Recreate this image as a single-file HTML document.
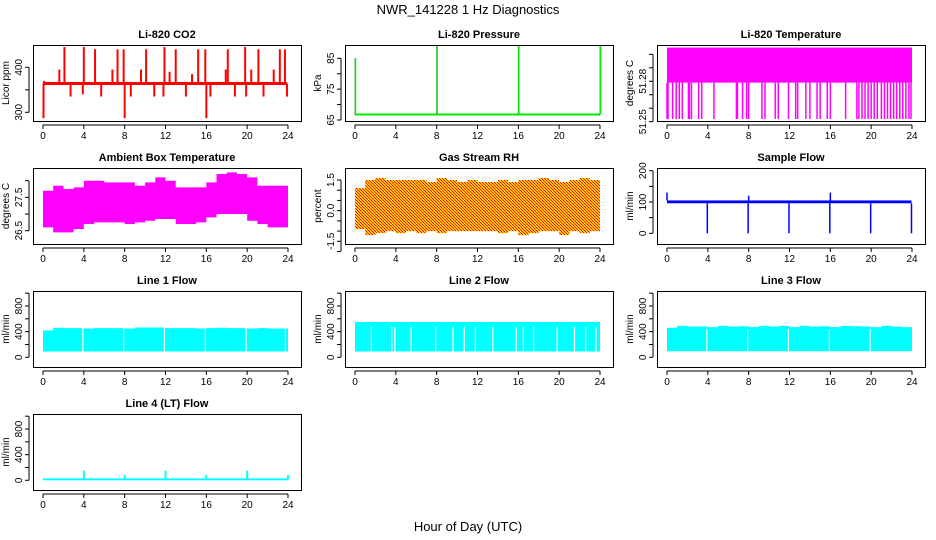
<!DOCTYPE html>
<html><head><meta charset="utf-8"><style>
html,body{margin:0;padding:0;background:#fff;}
svg{display:block;font-family:"Liberation Sans",sans-serif;}
</style></head><body>
<svg id="c" width="936" height="540" viewBox="0 0 936 540">
<defs>
<pattern id="chk" width="3" height="3" patternUnits="userSpaceOnUse">
<rect width="3" height="3" fill="#ffcc00"/><rect width="1" height="1" fill="#ff0000"/><rect x="1" y="1" width="1" height="1" fill="#ff2000"/><rect x="2" y="2" width="1" height="1" fill="#ff0000"/>
</pattern>
</defs>
<text x="468" y="14" text-anchor="middle" font-size="13">NWR_141228  1 Hz Diagnostics</text>
<text x="468" y="531" text-anchor="middle" font-size="13">Hour of Day (UTC)</text>
</svg>
<script>
// ---- data ----
const hourTicks = [0,4,8,12,16,20,24];
const bandHours = [0,1,2,3,4,5,6,7,8,9,10,11,12,13,14,15,16,17,18,19,20,21,22,23,24];
const co2Base = 364;
const co2SpikeHours = [0.05,0.1,1.6,2.1,2.7,3.9,4.0,5.1,5.7,6.8,7.3,7.9,8.0,8.6,9.6,10.1,10.9,11.8,11.9,12.4,13.0,14.0,14.6,15.2,15.9,16.0,16.4,17.9,18.1,18.8,19.8,19.9,20.4,21.1,21.6,22.6,23.2,23.7,23.9];
const co2SpikeVals  = [287,370,395,445,335,340,445,440,335,395,440,440,287,335,395,440,335,335,445,390,440,335,385,440,440,287,335,395,440,335,445,335,395,440,335,395,440,440,335];
const pressureBase = 66.8;
const pressureSpikeHours = [0,8,16,24];
const pressureSpikeVals = [85,89,89,89];
const tempHigh = 51.305, tempMid = 51.279, tempLow = 51.252;
const tempDropHours = [0,0.1,0.55,0.9,1.2,1.5,2.1,2.2,2.4,3.1,3.4,4.6,6.8,6.9,7.4,7.8,8.0,9.3,9.6,10.6,10.9,11.9,12.6,12.8,13.6,14.0,14.7,15.0,15.7,16.0,17.5,18.6,18.8,19.1,19.4,19.7,20.0,20.3,20.6,21.0,21.3,21.6,21.9,22.2,22.5,22.8,23.1,23.4,23.7,23.9];
const ambientLo = [26.6,26.45,26.45,26.55,26.7,26.75,26.75,26.75,26.7,26.75,26.8,26.85,26.85,26.7,26.7,26.75,26.9,27.0,27.0,27.0,26.8,26.7,26.6,26.6,26.8];
const ambientHi = [27.7,27.85,27.75,27.8,28.0,28.0,27.95,27.95,27.95,27.85,27.95,28.1,28.0,27.8,27.8,27.8,27.95,28.2,28.25,28.2,28.1,27.85,27.85,27.85,27.8];
const rhLo = [-0.9,-1.2,-1.1,-1.0,-1.1,-1.0,-1.1,-1.0,-1.1,-1.0,-1.0,-1.0,-1.0,-1.0,-1.1,-1.0,-1.2,-1.1,-1.0,-1.0,-1.2,-1.0,-1.1,-1.0,-0.8];
const rhHi = [1.1,1.5,1.6,1.5,1.5,1.5,1.5,1.4,1.6,1.5,1.4,1.5,1.4,1.4,1.5,1.4,1.5,1.5,1.6,1.5,1.4,1.5,1.6,1.5,1.3];
const sampleLo = 96, sampleHi = 105;
const sampleDropHours = [4,8,12,16,20,24];
const sampleSpikeHours = [0,8,16];
const sampleSpikeVals = [130,120,130];
const line1Lo = 90;
const line1Hi = [420,460,455,455,450,455,455,455,450,465,465,465,455,455,455,450,455,460,455,455,450,455,450,450,360];
const line1GapHours = [3.9,7.9,11.9,15.9,19.9,23.75];
const line2Lo = 90, line2Hi = 550;
const line2GapHours = [1.6,3.6,3.9,5.5,7.9,9.6,10.7,11.8,13.5,15.8,16.5,17.5,19.8,21.5,22.6,23.6];
const line3Lo = 95;
const line3Hi = [460,490,480,480,470,490,480,485,470,490,480,490,470,490,480,485,470,490,485,480,470,490,480,470,330];
const line3GapHours = [3.9,7.9,11.9,15.9,19.9];
const line4Base = 15;
const line4SpikeHours = [4,8,12,16,20,24];
const line4SpikeVals = [150,80,150,80,150,80];

// ---- layout ----
const NS = "http://www.w3.org/2000/svg";
const svg = document.getElementById('c');
const colX = [33,345,657], rowY = [45,168,291,414], BW = 268, BH = 76;
function mk(tag, attrs, parent){ const e=document.createElementNS(NS,tag); for(const k in attrs) e.setAttribute(k,attrs[k]); (parent||svg).appendChild(e); return e; }

function panel(name,col,row,title,ylab,v1,p1,v2,p2,ticks,labels){
  const x0=colX[col], y0=rowY[row];
  const g = mk('g',{});
  
  
  const X = h => x0+10 + h*(245/24);
  const Y = v => y0+p1 + (v-v1)*(p2-p1)/(v2-v1);
  const clip = mk('clipPath',{id:'cl'+name},g);
  mk('rect',{x:x0,y:y0,width:BW,height:BH},clip);
  const plot = mk('g',{'clip-path':'url(#cl'+name+')'},g);
  
  
  const t = mk('text',{x:x0+BW/2,y:y0-7,'text-anchor':'middle','font-size':11,'font-weight':'bold'},g);
  t.textContent = title;
  
  
  const xa = mk('g',{},g);
  
  
  mk('line',{x1:X(0),x2:X(24),y1:y0+BH+4,y2:y0+BH+4,stroke:'#000','stroke-width':1},xa);
  hourTicks.forEach(h=>{
    mk('line',{x1:X(h),x2:X(h),y1:y0+BH+4,y2:y0+BH+8,stroke:'#000'},xa);
    const tl = mk('text',{x:X(h),y:y0+BH+18,'text-anchor':'middle','font-size':10},xa);
    tl.textContent = h;
  });
  const ya = mk('g',{},g);
  
  
  const yt = ticks.map(Y);
  mk('line',{x1:x0-4,x2:x0-4,y1:Math.min(...yt),y2:Math.max(...yt),stroke:'#000'},ya);
  ticks.forEach(v=>{ mk('line',{x1:x0-8,x2:x0-4,y1:Y(v),y2:Y(v),stroke:'#000'},ya); });
  labels.forEach(l=>{
    const yy=Y(l[0]);
    const tl = mk('text',{x:x0-11,y:yy,'text-anchor':'middle','font-size':10,transform:`rotate(-90 ${x0-11} ${yy})`},ya);
    tl.textContent = l[1];
  });
  const yl = mk('text',{x:x0-24,y:y0+BH/2,'text-anchor':'middle','font-size':10,transform:`rotate(-90 ${x0-24} ${y0+BH/2})`},g);
  yl.textContent = ylab;
  
  
  const box = mk('rect',{x:x0+0.5,y:y0+0.5,width:BW,height:BH,fill:'none',stroke:'#000','stroke-width':1},g);
  
  
  return {plot,X,Y,g,box};
}
function band(p,hours,lo,hi,fill){
  let pts=[];
  hours.forEach((h,i)=>{ const a=p.X(h), b=p.X(Math.min(24,h+1)); const v=Array.isArray(hi)?hi[i]:hi; pts.push(a+','+p.Y(v)); if(i<hours.length-1) pts.push(b+','+p.Y(v)); });
  for(let i=hours.length-1;i>=0;i--){ const h=hours[i]; const v=Array.isArray(lo)?lo[i]:lo; const b=p.X(Math.min(24,h+1)); if(i<hours.length-1) pts.push(b+','+p.Y(v)); pts.push(p.X(h)+','+p.Y(v)); }
  const e = mk('polygon',{points:pts.join(' '),fill:fill},p.plot);
  
  
  return e;
}
function vline(p,h,v1,v2,color,w,dash){
  const e = mk('line',{x1:p.X(h),x2:p.X(h),y1:p.Y(v1),y2:p.Y(v2),stroke:color,'stroke-width':w||1.5},p.plot);
  if(dash) e.setAttribute('stroke-dasharray',dash);
  return e;
}

// CO2
const pCO2 = panel('co2',0,0,'Li-820 CO2','Licor ppm',400,22.3,300,67.3,[300,350,400],[[300,'300'],[400,'400']]);
co2SpikeHours.forEach((h,i)=>{ const e=vline(pCO2,h,co2Base,co2SpikeVals[i],'#ff0000',2);  });
{ const e=mk('line',{x1:pCO2.X(0),x2:pCO2.X(23.9),y1:pCO2.Y(co2Base),y2:pCO2.Y(co2Base),stroke:'#ff0000','stroke-width':3},pCO2.plot);  }

// Pressure
const pP = panel('pressure',1,0,'Li-820 Pressure','kPa',65,75,85,13.3,[65,70,75,80,85],[[65,'65'],[75,'75'],[85,'85']]);
{ const e=mk('line',{x1:pP.X(0),x2:pP.X(24),y1:pP.Y(pressureBase),y2:pP.Y(pressureBase),stroke:'#00ee00','stroke-width':2},pP.plot);  }
pressureSpikeHours.forEach((h,i)=>{ vline(pP,h,pressureBase,pressureSpikeVals[i],'#000',1,'1,1'); const e=vline(pP,h+0.05,pressureBase,pressureSpikeVals[i],'#00ee00',1.5);  });

// Temperature
const pT = panel('temperature',2,0,'Li-820 Temperature','degrees C',51.25,76.7,51.30,9.3,[51.25,51.26,51.27,51.28,51.29,51.30],[[51.25,'51.25'],[51.28,'51.28']]);
{ const e=mk('rect',{x:pT.X(0),y:pT.Y(tempHigh),width:pT.X(24)-pT.X(0),height:pT.Y(tempMid)-pT.Y(tempHigh),fill:'#ff00ff'},pT.plot);  }
tempDropHours.forEach(h=>{ const e=vline(pT,h,tempMid,tempLow,'#ff00ff',1.5);  });

// Ambient
const pA = panel('ambient',0,1,'Ambient Box Temperature','degrees C',26.5,62.7,28.0,12.7,[26.5,27,27.5,28],[[26.5,'26.5'],[27.5,'27.5']]);
band(pA,bandHours,ambientLo,ambientHi,'#ff00ff');

// RH
const pR = panel('rh',1,1,'Gas Stream RH','percent',1.5,12,-1.5,73.3,[-2,-1.5,-1,-0.5,0,0.5,1,1.5],[[-1.5,'-1.5'],[0,'0.0'],[1.5,'1.5']]);
band(pR,bandHours,rhLo,rhHi,'url(#chk)');

// Sample flow
const pS = panel('sample',2,1,'Sample Flow','ml/min',0,65.3,200,2.7,[0,50,100,150,200],[[0,'0'],[100,'100'],[200,'200']]);
{ const e=mk('rect',{x:pS.X(0),y:pS.Y(sampleHi),width:pS.X(23.95)-pS.X(0),height:pS.Y(sampleLo)-pS.Y(sampleHi),fill:'#0000ff'},pS.plot);  }
sampleDropHours.forEach(h=>{ const e=vline(pS,h-0.05,sampleLo,0,'#0000ff',1.5);  });
sampleSpikeHours.forEach((h,i)=>{ const e=vline(pS,h,sampleHi,sampleSpikeVals[i],'#0000ff',1.5);  });

const flowTicks=[0,200,400,600,800,1000], flowLabels=[[0,'0'],[400,'400'],[800,'800']];
const p1 = panel('line1',0,2,'Line 1 Flow','ml/min',0,66.3,800,15,flowTicks,flowLabels);
band(p1,bandHours,line1Lo,line1Hi,'#00ffff');
line1GapHours.forEach(h=>{ const e=vline(p1,h,line1Lo,500,'#fff',1.2);  });
const p2 = panel('line2',1,2,'Line 2 Flow','ml/min',0,66.3,800,15,flowTicks,flowLabels);
band(p2,bandHours,line2Lo,line2Hi,'#00ffff');
line2GapHours.forEach(h=>{ const e=vline(p2,h,line2Lo,470,'#fff',1.2);  });
const p3 = panel('line3',2,2,'Line 3 Flow','ml/min',0,66.3,800,15,flowTicks,flowLabels);
band(p3,bandHours,line3Lo,line3Hi,'#00ffff');
line3GapHours.forEach(h=>{ const e=vline(p3,h,line3Lo,440,'#fff',1.2);  });
const p4 = panel('line4',0,3,'Line 4 (LT) Flow','ml/min',0,66.3,800,15,flowTicks,flowLabels);
{ const e=mk('rect',{x:p4.X(0),y:p4.Y(line4Base+15),width:p4.X(24)-p4.X(0),height:p4.Y(0)-p4.Y(line4Base+15),fill:'#00ffff'},p4.plot);  }
line4SpikeHours.forEach((h,i)=>{ const e=vline(p4,h,line4Base,line4SpikeVals[i],'#00ffff',2);  });
</script>
</body></html>
